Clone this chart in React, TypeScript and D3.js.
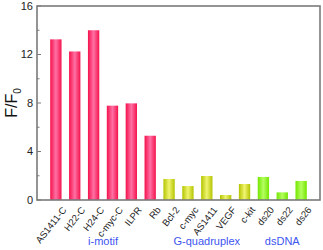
import React from "react";
import * as d3 from "d3";

const categories = ["AS1411-C", "H22-C", "H24-C", "c-myc-C", "ILPR", "Rb", "Bcl-2", "c-myc", "AS1411", "VEGF", "c-kit", "ds20", "ds22", "ds26"];
const values = [13.25, 12.25, 14.0, 7.78, 7.97, 5.3, 1.73, 1.15, 1.98, 0.41, 1.32, 1.9, 0.63, 1.57];
const groups = ["imotif", "imotif", "imotif", "imotif", "imotif", "imotif", "g4", "g4", "g4", "g4", "g4", "ds", "ds", "ds"];
const groupNames = [
  { key: "imotif", label: "i-motif" },
  { key: "g4", label: "G-quadruplex" },
  { key: "ds", label: "dsDNA" },
];
const yTicks = [0, 4, 8, 12, 16];
const yMinor = [2, 6, 10, 14];

const gradients: Record<string, [string, string]> = {
  imotif: ["#f4124c", "#ff70a4"],
  g4: ["#b3c400", "#f0f470"],
  ds: ["#74e600", "#b4ff60"],
};

export default function App() {
  const W = 323, H = 250;
  const left = 37, right = 320, top = 6, bottom = 200;
  const x = d3.scaleLinear().domain([0, categories.length + 1]).range([left, right]);
  const y = d3.scaleLinear().domain([0, 16]).range([bottom, top]);
  const bw = x(0.6) - x(0);
  const font = "Arial, 'Liberation Sans', sans-serif";

  return (
    <svg width={W} height={H} style={{ position: "absolute", left: 0, top: 0 }} fontFamily={font}>
      <defs>
        {Object.entries(gradients).map(([k, [edge, mid]]) => (
          <linearGradient key={k} id={"g-" + k} x1="0" x2="1" y1="0" y2="0">
            <stop offset="0%" stopColor={edge} />
            <stop offset="50%" stopColor={mid} />
            <stop offset="100%" stopColor={edge} />
          </linearGradient>
        ))}
      </defs>
      {values.map((v, i) => (
        <rect key={i} x={x(i + 1) - bw / 2} y={y(v)} width={bw} height={y(0) - y(v)} fill={`url(#g-${groups[i]})`} />
      ))}
      <rect x={left} y={top} width={right - left} height={bottom - top} fill="none" stroke="#7a7a7a" strokeWidth={1.6} />
      {yTicks.map((t) => (
        <g key={t}>
          <line x1={left} x2={left + 4} y1={y(t)} y2={y(t)} stroke="#7a7a7a" strokeWidth={1} />
          <text x={left - 4} y={y(t)} dy="0.35em" textAnchor="end" fontSize={11} fill="#222">{t}</text>
        </g>
      ))}
      {yMinor.map((t) => (
        <line key={t} x1={left} x2={left + 2.5} y1={y(t)} y2={y(t)} stroke="#7a7a7a" strokeWidth={1} />
      ))}
      <text transform={`translate(17,${(top + bottom) / 2}) rotate(-90)`} textAnchor="middle" fontSize={16} fill="#111">
        F/F<tspan fontSize={10} dy={4}>0</tspan>
      </text>
      {categories.map((c, i) => (
        <text key={c} transform={`translate(${x(i + 1) + 11},${bottom + 10}) rotate(-52)`} textAnchor="end" fontSize={9.5} fill="#222">{c}</text>
      ))}
      {groupNames.map((g) => {
        const idx = groups.map((gg, i) => (gg === g.key ? i + 1 : -1)).filter((i) => i >= 0);
        const cx = (x(d3.min(idx)!) + x(d3.max(idx)!)) / 2;
        return (
          <text key={g.key} x={cx} y={245} textAnchor="middle" fontSize={11} fill="#3d55f0">{g.label}</text>
        );
      })}
    </svg>
  );
}
